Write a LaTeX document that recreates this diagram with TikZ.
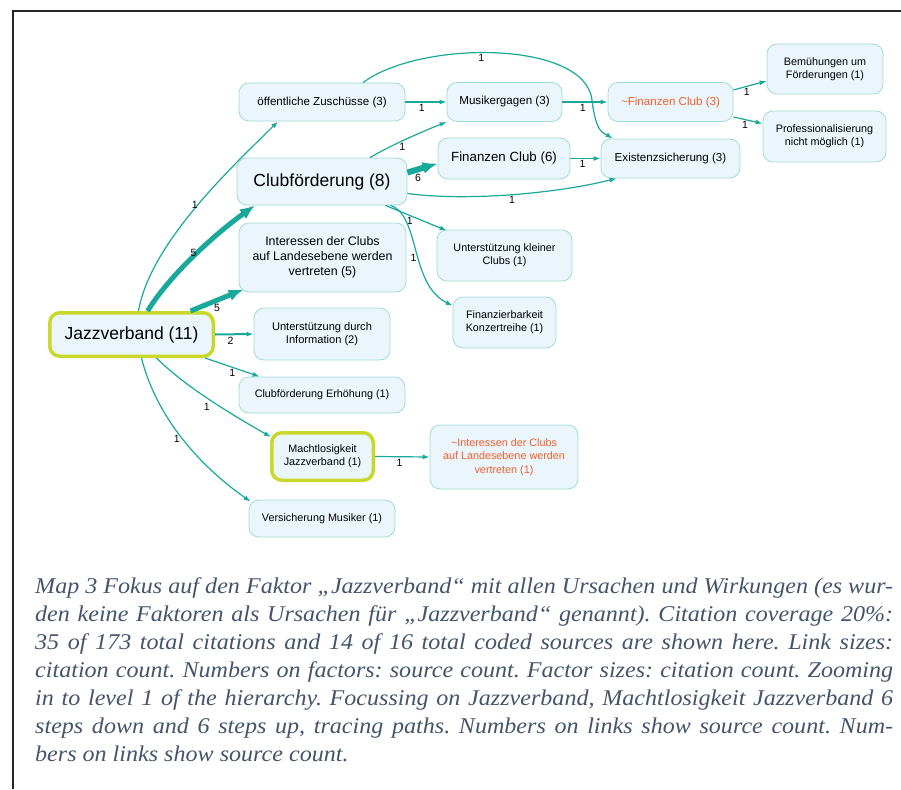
\documentclass[tikz,border=0pt]{standalone}
\usepackage{fontspec}
\setmainfont{Liberation Serif}
\setsansfont{Liberation Sans}
\newfontfamily\capfont{Liberation Serif}[FakeStretch=1.07]
\usetikzlibrary{positioning, arrows.meta, calc}
\definecolor{mapfill}{HTML}{EBF5FC}
\definecolor{mapline}{HTML}{9FDCD4}
\definecolor{maplink}{HTML}{19A99B}
\definecolor{mapfocus}{HTML}{C9D92B}
\definecolor{maporange}{HTML}{F2602B}
\definecolor{mapcaption}{HTML}{44546A}

\begin{document}
\begin{tikzpicture}[x=1pt, y=-1pt,
    factor/.style={draw=mapline, fill=mapfill, line width=0.8pt, rounded corners=10pt,
                   align=center, inner sep=2pt, font=\sffamily\fontsize{10.8}{13.3}\selectfont},
    focus/.style={factor, draw=mapfocus, line width=3.5pt},
    link/.style={draw=maplink, line width=1.2pt, -{Latex[length=7pt,width=5pt]}},
    heavy/.style={link, line width=#1, -{Latex[length=15pt,width=12pt]}},
    num/.style={font=\sffamily\fontsize{10.5}{10.5}\selectfont, inner sep=1.5pt, text=black}]
    \useasboundingbox (0,0) rectangle (901,789);
    \draw[line width=1.5pt, black!85] (901,11) -- (13,11) -- (13,789);

    % factors
    \node[focus, minimum width=163.5pt, minimum height=43.5pt,
          font=\sffamily\fontsize{17.5}{20}\selectfont] (jazz) at (131.5,334.5) {Jazzverband (11)};
    \node[factor, minimum width=170pt, minimum height=47pt,
          font=\sffamily\fontsize{17.5}{20}\selectfont] (clubf) at (322,181.5) {Clubförderung (8)};
    \node[factor, minimum width=132pt, minimum height=41pt,
          font=\sffamily\fontsize{13.3}{16}\selectfont] (finclub) at (504,158.5) {Finanzen Club (6)};
    \node[factor, minimum width=167pt, minimum height=69pt,
          font=\sffamily\fontsize{12.4}{15}\selectfont] (intere) at (322.5,257.5)
          {Interessen der Clubs\\auf Landesebene werden\\vertreten (5)};
    \node[factor, minimum width=166pt, minimum height=38pt,
          font=\sffamily\fontsize{11.6}{14}\selectfont] (zusch) at (322,102) {öffentliche Zuschüsse (3)};
    \node[factor, minimum width=115pt, minimum height=39pt,
          font=\sffamily\fontsize{11.6}{14}\selectfont] (musik) at (504.5,102) {Musikergagen (3)};
    \node[factor, minimum width=125pt, minimum height=39pt, text=maporange,
          font=\sffamily\fontsize{11.6}{14}\selectfont] (fin3) at (670.5,102) {\textasciitilde Finanzen Club (3)};
    \node[factor, minimum width=139pt, minimum height=39pt,
          font=\sffamily\fontsize{11.6}{14}\selectfont] (exist) at (670.5,158.5) {Existenzsicherung (3)};
    \node[factor, minimum width=136pt, minimum height=52pt,
          font=\sffamily\fontsize{11.1}{13.5}\selectfont] (info) at (322,334) {Unterstützung durch\\Information (2)};
    \node[focus, minimum width=101.5pt, minimum height=47.5pt] (macht) at (322.5,456.5)
          {Machtlosigkeit\\Jazzverband (1)};
    \node[factor, minimum width=148pt, minimum height=64pt, text=maporange] (minter) at (504,457)
          {\textasciitilde Interessen der Clubs\\auf Landesebene werden\\vertreten (1)};
    \foreach \x/\y/\bw/\bh/\nm/\txt in {322/395/166/36/erh/{Clubförderung Erhöhung (1)},
                                        322/518.5/146/37/versich/{Versicherung Musiker (1)},
                                        504.5/255.5/135/51/kleine/{Unterstützung kleiner\\Clubs (1)},
                                        504.5/322.5/103/51/finanz/{Finanzierbarkeit\\Konzertreihe (1)},
                                        825/69/116/50/bem/{Bemühungen um\\Förderungen (1)},
                                        824.5/136.5/123/51/prof/{Professionalisierung\\nicht möglich (1)}}{
      \node[factor, minimum width=\bw pt, minimum height=\bh pt] (\nm) at (\x,\y) {\txt};
    }

    % links out of Jazzverband
    \draw[link] ([xshift=7pt]jazz.north) .. controls +(12,-70) and +(-40,40) .. ([xshift=-44pt]zusch.south)
          node[num, pos=.5, left=-2pt] {1};
    \draw[heavy=5pt] ([xshift=16pt]jazz.north) .. controls +(25,-40) and +(-35,25) .. ([xshift=-67pt]clubf.south)
          node[num, pos=.5, left=-3pt] {5};
    \draw[heavy=5pt] ([xshift=59pt]jazz.north) -- ($(intere.south west)+(5,-3)$) node[num, pos=.5, below] {5};
    \draw[link, line width=2pt] (jazz.east) -- (info.west) node[num, pos=.4, below] {2};
    \draw[link] ([xshift=-10pt]jazz.south east) -- ([xshift=21pt]erh.north west) node[num, pos=.5, below] {1};
    \draw[link] ([xshift=25pt]jazz.south) .. controls +(30,30) and +(-35,-20) .. ($(macht.north west)+(1,6)$)
          node[num, pos=.5, below left] {1};
    \draw[link] ([xshift=10pt]jazz.south) .. controls +(15,60) and +(-50,-35) .. ($(versich.north west)+(2,2)$)
          node[num, pos=.5, left=1pt] {1};
    \draw[link] (macht.east) -- (minter.west) node[num, pos=.45, below] {1};

    % links out of Clubförderung
    \draw[heavy=6pt] ([yshift=9pt]clubf.east) -- ([yshift=-5pt]finclub.west) node[num, pos=.35, below] {6};
    \draw[link] ([xshift=48pt]clubf.north) .. controls +(20,-12) and +(-25,10) .. (musik.south west)
          node[num, pos=.45, below] {1};
    \draw[link] ([yshift=-12pt]clubf.east) .. controls +(60,8) and +(-60,15) .. ([xshift=16pt]exist.south west)
          node[num, pos=.5, below] {1};
    \draw[link] ([xshift=-22pt]clubf.south east) -- ($(kleine.north west)+(10,1)$) node[num, pos=.4, below] {1};
    \draw[link] ([xshift=-17pt]clubf.south east) .. controls +(30,10) and +(-43,-21) .. ($(finanz.north west)+(0,9)$)
          node[num, pos=.55, left=0pt] {1};

    % upper chain
    \draw[link] (zusch.east) -- (musik.west) node[num, pos=.4, below] {1};
    \draw[link] ([xshift=41pt]zusch.north) .. controls (420,40) and (585,40) .. (592,100)
          node[num, pos=.45, below] {1}
          .. controls (596,134) and (604,133) .. ([xshift=12pt]exist.north west);
    \draw[link] (musik.east) -- (fin3.west) node[num, pos=.45, below] {1};
    \draw[link] (finclub.east) -- (exist.west) node[num, pos=.4, below] {1};
    \draw[link] ([yshift=12pt]fin3.east) -- ([yshift=-12pt]bem.west) node[num, pos=.4, below] {1};
    \draw[link] ([yshift=-15pt]fin3.east) -- ([yshift=13pt]prof.west) node[num, pos=.4, below] {1};

    % caption
    \node[anchor=base west, inner sep=0pt, text width=858pt, align=justify, text=mapcaption,
          font=\capfont\itshape\frenchspacing\fontsize{22.5}{28}\selectfont] (caption) at (35,593)
      {Map 3 Fokus auf den Faktor „Jazzverband“ mit allen Ursachen und Wirkungen (es wur-\linebreak
       den keine Faktoren als Ursachen für „Jazzverband“ genannt). Citation coverage 20\%:\linebreak
       35 of 173 total citations and 14 of 16 total coded sources are shown here. Link sizes:\linebreak
       citation count. Numbers on factors: source count. Factor sizes: citation count. Zooming\linebreak
       in to level 1 of the hierarchy. Focussing on Jazzverband, Machtlosigkeit Jazzverband 6\linebreak
       steps down and 6 steps up, tracing paths. Numbers on links show source count. Num-\linebreak
       bers on links show source count.};
\end{tikzpicture}
\end{document}
